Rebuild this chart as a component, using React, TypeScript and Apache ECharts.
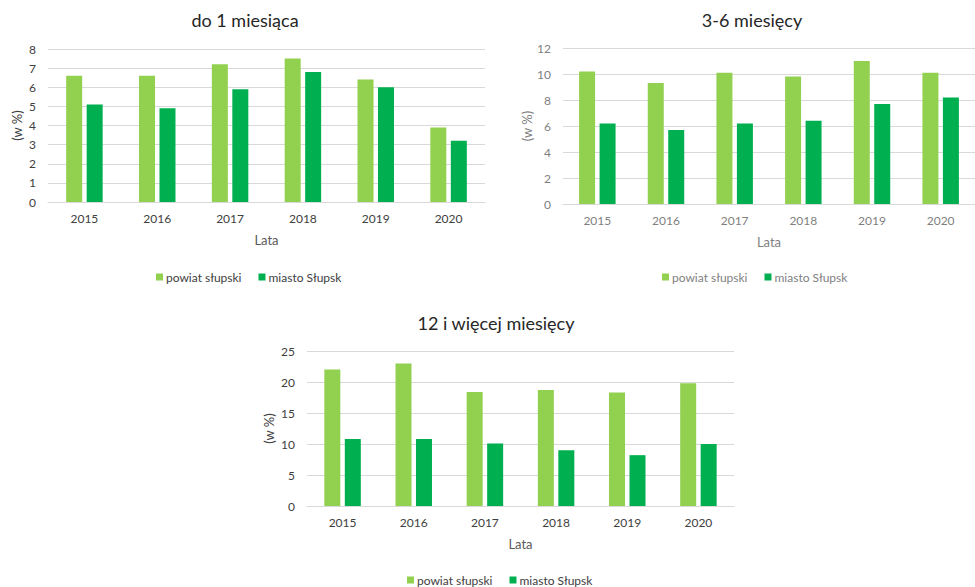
import React, { useEffect, useRef } from "react";
import * as echarts from "echarts";

const years = ["2015", "2016", "2017", "2018", "2019", "2020"];
const seriesNames = ["powiat słupski", "miasto Słupsk"];

const titles = ["do 1 miesiąca", "3-6 miesięcy", "12 i więcej miesięcy"];

const powiat1 = [6.6, 6.6, 7.2, 7.5, 6.4, 3.9];
const miasto1 = [5.1, 4.9, 5.9, 6.8, 6.0, 3.2];

const powiat2 = [10.2, 9.3, 10.1, 9.8, 11.0, 10.1];
const miasto2 = [6.2, 5.7, 6.2, 6.4, 7.7, 8.2];

const powiat3 = [22.0, 23.0, 18.4, 18.7, 18.3, 19.8];
const miasto3 = [10.8, 10.8, 10.1, 9.0, 8.2, 10.0];

const yMax = [8, 12, 25];
const yInterval = [1, 2, 5];

const LIGHT = "#92D050";
const DARK = "#00B050";
const FONT = "Lato, 'Open Sans', sans-serif";

const panels = [
  { left: 48, top: 49, width: 437, height: 153, titleX: 245, titleY: 20, legendX: 247, legendY: 278, labelColor: "#404040", nameColor: "#595959", yGap: 25, powiat: powiat1, miasto: miasto1 },
  { left: 563, top: 48, width: 423, height: 156, titleX: 752, titleY: 20, legendX: 753, legendY: 278, labelColor: "#7f7f7f", nameColor: "#7f7f7f", yGap: 30, powiat: powiat2, miasto: miasto2 },
  { left: 307, top: 351, width: 427, height: 155, titleX: 496, titleY: 323, legendX: 498, legendY: 581, labelColor: "#404040", nameColor: "#595959", yGap: 32, powiat: powiat3, miasto: miasto3 },
];

export default function App() {
  const ref = useRef<HTMLDivElement>(null);
  useEffect(() => {
    if (!ref.current) return;
    const chart = echarts.init(ref.current, undefined, { renderer: "svg" });
    const title: any[] = [];
    const grid: any[] = [];
    const xAxis: any[] = [];
    const yAxis: any[] = [];
    const legend: any[] = [];
    const series: any[] = [];
    panels.forEach((p, i) => {
      title.push({
        text: titles[i],
        left: p.titleX,
        top: p.titleY,
        textAlign: "center",
        textVerticalAlign: "middle",
        padding: 0,
        textStyle: { fontFamily: FONT, fontSize: 18, fontWeight: "normal", color: "#262626" },
      });
      grid.push({ left: p.left, top: p.top, width: p.width, height: p.height, containLabel: false });
      xAxis.push({
        type: "category",
        gridIndex: i,
        data: years,
        name: "Lata",
        nameLocation: "middle",
        nameGap: 31,
        nameTextStyle: { fontFamily: FONT, fontSize: 13, color: p.nameColor, verticalAlign: "top" },
        axisLine: { lineStyle: { color: "#d9d9d9", width: 1 } },
        axisTick: { show: false },
        axisLabel: { fontFamily: FONT, fontSize: 12, color: p.labelColor, margin: 10 },
      });
      yAxis.push({
        type: "value",
        gridIndex: i,
        min: 0,
        max: yMax[i],
        interval: yInterval[i],
        name: "(w %)",
        nameLocation: "middle",
        nameRotate: 90,
        nameGap: p.yGap,
        nameTextStyle: { fontFamily: FONT, fontSize: 13, color: p.labelColor },
        axisLine: { show: false },
        axisTick: { show: false },
        splitLine: { lineStyle: { color: "#d9d9d9", width: 1 } },
        axisLabel: { fontFamily: FONT, fontSize: 12, color: p.labelColor, margin: 12 },
      });
      legend.push({
        data: seriesNames,
        left: p.legendX,
        top: p.legendY - 7,
        itemWidth: 7,
        itemHeight: 7,
        itemGap: 17,
        icon: "rect",
        padding: 0,
        textStyle: { fontFamily: FONT, fontSize: 12, color: p.labelColor, padding: [0, 0, 0, -2] },
      });
      series.push({
        type: "bar",
        name: seriesNames[0],
        xAxisIndex: i,
        yAxisIndex: i,
        data: p.powiat,
        barWidth: 16,
        barGap: "28%",
        itemStyle: { color: LIGHT },
      });
      series.push({
        type: "bar",
        name: seriesNames[1],
        xAxisIndex: i,
        yAxisIndex: i,
        data: p.miasto,
        barWidth: 16,
        barGap: "28%",
        itemStyle: { color: DARK },
      });
    });
    chart.setOption({ animation: false, backgroundColor: "#ffffff", title, grid, xAxis, yAxis, legend, series });
    // center legends after layout
    const opt: any = chart.getOption();
    chart.setOption({
      legend: panels.map((p) => ({ left: p.legendX - 91 })),
    });
    return () => chart.dispose();
  }, []);
  return <div ref={ref} style={{ position: "fixed", left: 0, top: 0, width: 975, height: 587 }} />;
}
